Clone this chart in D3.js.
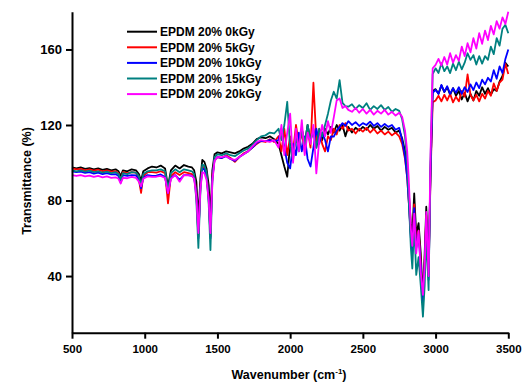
<!DOCTYPE html>
<html>
<head>
<meta charset="utf-8">
<script src="https://cdnjs.cloudflare.com/ajax/libs/d3/7.8.5/d3.min.js"></script>
<style>
  html, body { margin: 0; padding: 0; background: #fff; }
  #chart { width: 525px; height: 386px; }
  text { font-family: Arial, "Liberation Sans", sans-serif; font-weight: bold; fill: #000; }
</style>
</head>
<body>
<div id="chart"></div>
<script>
/* global d3 */

// data
const wavenumbers = [
    500, 530, 560, 590, 620, 650, 680, 710, 740, 770, 800, 820, 835, 850, 880, 910, 940, 960, 975, 990, 1020, 1050, 1080, 1110, 1140, 1160, 1180, 1210, 1240, 1270, 1300, 1325,
    1340, 1355, 1369, 1383, 1396, 1410, 1425, 1440, 1452, 1465, 1480, 1500,
    1530, 1560, 1590, 1620, 1650, 1680, 1710, 1740, 1770, 1800, 1830, 1860, 1890,
    1920, 1940, 1960, 1980, 2000, 2020, 2040, 2060, 2080, 2100, 2120, 2140, 2160, 2180, 2200, 2220, 2240, 2260, 2280, 2300, 2320, 2340, 2360, 2380, 2400,
    2425, 2450, 2475, 2500, 2525, 2550, 2575, 2600, 2625, 2650, 2675, 2700, 2725, 2750, 2770, 2790, 2805,
    2815, 2830, 2840, 2853, 2867, 2883, 2898, 2913, 2925, 2936, 2952, 2965, 2980,
    3000, 3020, 3040, 3060, 3080, 3100, 3120, 3140, 3160, 3180, 3200, 3220, 3240, 3260, 3280, 3300, 3320, 3340, 3360, 3380, 3400, 3420, 3440, 3460, 3480, 3500
];

const epdm0kGy = [
    97.5, 97, 97.5, 96.8, 97.2, 96.5, 97, 96.2, 96.8, 96, 96.5, 95.5, 93, 96, 95.5, 96.5, 96, 94, 90.5, 95.5, 97, 98, 97.5, 98.5, 97, 87.5, 96, 98.5, 97, 98.8, 98, 97.5,
    96, 90, 70, 92, 101.5, 100.5, 97, 88, 70, 96, 104.5, 105.5,
    105, 106, 105.5, 105, 106, 107.5, 108.5, 110, 112.5, 113.5, 113, 114, 112.5,
    110, 104, 98, 92.6, 110, 104, 116, 108, 118, 110, 120, 112, 118, 108, 116, 112, 118, 115, 119, 116, 120, 117, 120, 114, 119,
    116, 118.5, 117, 119, 117.5, 120, 118, 119.5, 117, 119, 117.5, 118.5, 116, 117, 113, 106, 96,
    85, 68, 62, 83.8, 62, 68, 52, 28, 52, 76.7, 45, 95, 138,
    139, 136.5, 141, 137.5, 140, 136, 139.5, 135.5, 138, 133.5, 137, 132.5, 136.5, 133, 138, 135.5, 140, 136.5, 139.5, 136, 139, 138, 143, 146, 153, 151
];

const epdm5kGy = [
    97, 96.5, 96.8, 96, 96.5, 95.8, 96.3, 95.5, 96, 95.3, 95.5, 94.5, 90, 95, 94.5, 95, 94.8, 91, 84, 93, 95, 95, 94.8, 95.5, 94.5, 78.5, 93, 95, 93.5, 95, 94.5, 94,
    92.5, 85, 61, 88, 98, 97.5, 94, 82, 61, 93, 101.5, 103,
    102.5, 104, 102.5, 100.5, 103, 105, 106, 108, 110, 111.5, 111, 112.5, 111,
    114, 106, 118, 104, 114, 106, 120, 110, 116, 106, 118, 108, 142.4, 112, 118, 110, 106, 114, 112, 118, 115, 120, 118, 121, 117,
    118, 115.5, 118, 116.5, 118.5, 116, 118, 115.5, 117, 115, 116.5, 114.5, 116, 114, 110, 102, 92,
    80, 62, 55, 78, 58, 64, 48, 26, 48, 72, 40, 92, 132,
    133, 135.5, 132.5, 136, 133, 136.5, 132, 135, 132.5, 138, 135, 146.8, 136, 133, 136, 132.5, 136.5, 134, 138, 135.5, 142, 138, 142.5, 144, 152.5, 147
];

const epdm10kGy = [
    95.5, 95, 95.3, 94.6, 95, 94.3, 94.8, 94, 94.5, 93.8, 94, 93, 89.5, 93.5, 93, 93.5, 93.3, 91, 86.5, 92, 93.5, 93, 93.2, 93.8, 92.5, 84, 92, 93.5, 91, 93.5, 93.5, 93,
    92, 84, 60, 87, 97, 96.5, 93, 81, 60, 92, 101.5, 103,
    102.5, 103.5, 102, 101, 103, 104.5, 106, 108, 110.5, 111.5, 111.5, 112, 111.5,
    112, 118, 108, 100, 97, 110, 104, 116, 106, 114, 102, 98, 108, 118, 110, 116, 112, 106, 114, 113.8, 117, 119, 121, 119.5, 122,
    120, 121.5, 119.5, 121, 120, 121.8, 119.5, 121, 119, 120.5, 119, 120, 117.5, 118.5, 112, 103, 92,
    80, 60, 52, 76, 55, 62, 46, 24, 46, 70, 38, 94, 137,
    138.6, 136.5, 141.2, 137.5, 140.5, 136.5, 139.5, 137, 140, 136.5, 140, 137.5, 141.5, 138.5, 142.5, 139.5, 144, 141.5, 145, 143, 149, 144.5, 151, 147.5, 155, 160
];

const epdm15kGy = [
    96, 95.5, 96, 95.3, 95.8, 95, 95.5, 94.8, 95.3, 94.5, 95, 94, 91, 94.5, 94, 95, 94.8, 93, 88, 94, 95.5, 96, 96, 96.5, 95.5, 86, 94.5, 96.5, 95, 96.5, 96, 95.5,
    94, 80, 54.9, 85, 99, 98.5, 95, 78, 53.8, 90, 103, 104.5,
    104, 105, 104, 103.5, 105, 106.5, 107.5, 109.5, 112, 114, 114.5, 116, 115.5,
    118, 112, 120, 132.3, 108, 101.5, 114, 106, 118, 110, 120, 112, 116, 108, 118, 114, 120, 126, 133, 137.6, 134, 143.8, 131.7, 130, 129.7,
    131, 128.5, 130.5, 129, 131.5, 128, 130, 128.5, 130.5, 128, 129.5, 127, 128.5, 127.5, 123, 114, 100,
    82, 55, 44, 68, 40.6, 50, 35, 18.5, 35, 62, 32.6, 100, 147,
    150, 147.5, 152.7, 148.5, 151, 147.5, 152.5, 149, 153.5, 149.5, 153, 158, 154.5, 157, 152, 156.5, 152.5, 156.5, 154.5, 161.5, 157.5, 166, 162, 171, 173, 168.6
];

const epdm20kGy = [
    93.5, 93, 93.5, 92.8, 93.2, 92.5, 93, 92.3, 92.8, 92, 92.3, 91.5, 89, 92, 91.8, 92.5, 92, 90, 87.5, 91.5, 92.8, 92.5, 92.6, 93, 92, 84, 91.5, 93.5, 90, 93.5, 93.3, 93,
    91.5, 82, 62.8, 86, 95, 94.5, 91, 80, 62.8, 90, 101, 103,
    103, 103.5, 102, 101.5, 103, 104.5, 106, 108.5, 111, 112, 111.5, 111, 112,
    108, 120, 104, 116, 126, 100, 118, 106, 122.6, 104, 116, 110, 120, 94.4, 112, 120, 114, 122, 115.8, 124, 133, 134, 129, 130, 128,
    127, 129, 126.5, 128.5, 126, 128, 125.5, 127.5, 126, 128, 125.5, 127, 125, 126.5, 124.4, 117, 106,
    92, 65, 56, 73, 52, 64, 42, 30, 45, 74, 40, 104, 150,
    151.8, 155, 151.5, 156, 152, 158, 153, 157, 154, 161.5, 156.5, 163.3, 158.5, 166, 160.5, 168.6, 163, 170, 165, 172.5, 168, 175, 171, 177, 173.5, 180
];

const seriesNames = ['EPDM 20% 0kGy', 'EPDM 20% 5kGy', 'EPDM 20% 10kGy', 'EPDM 20% 15kGy', 'EPDM 20% 20kGy'];
const seriesValues = [epdm0kGy, epdm5kGy, epdm10kGy, epdm15kGy, epdm20kGy];
const seriesColors = ['#000000', '#ff0000', '#0000ff', '#008080', '#ff00ff'];

const xTicks = [500, 1000, 1500, 2000, 2500, 3000, 3500];
const yTicks = [40, 80, 120, 160];

const Chart = {
    init() {
        // dimensions
        const WIDTH = 525;
        const HEIGHT = 386;
        const MARGIN_TOP = 11.7;
        const MARGIN_BOTTOM = 53.3;
        const MARGIN_LEFT = 72;
        const MARGIN_RIGHT = 16.7;

        const $svg = d3.select('#chart').append('svg')
            .attr('width', WIDTH)
            .attr('height', HEIGHT);

        // scales
        const xScale = d3.scaleLinear()
            .domain([500, 3500])
            .range([MARGIN_LEFT, WIDTH - MARGIN_RIGHT]);
        const yScale = d3.scaleLinear()
            .domain([10, 180])
            .range([HEIGHT - MARGIN_BOTTOM, MARGIN_TOP]);

        // lines
        const line = d3.line()
            .x(d => xScale(d[0]))
            .y(d => yScale(d[1]));

        const series = seriesValues.map((vals, i) => ({
            name: seriesNames[i],
            color: seriesColors[i],
            points: wavenumbers.map((w, j) => [w, vals[j]])
        }));

        $svg.append('g').attr('class', 'g-vis')
            .selectAll('path')
            .data(series)
            .join('path')
            .attr('fill', 'none')
            .attr('stroke', d => d.color)
            .attr('stroke-width', 1.8)
            .attr('stroke-linejoin', 'round')
            .attr('d', d => line(d.points));

        // axes
        const xAxis = d3.axisBottom(xScale)
            .tickValues(xTicks)
            .tickFormat(d3.format('d'))
            .tickSize(6)
            .tickSizeOuter(0)
            .tickPadding(6);
        const yAxis = d3.axisLeft(yScale)
            .tickValues(yTicks)
            .tickFormat(d3.format('d'))
            .tickSize(6)
            .tickSizeOuter(0)
            .tickPadding(4);

        const $x = $svg.append('g')
            .attr('transform', `translate(0, ${HEIGHT - MARGIN_BOTTOM})`)
            .call(xAxis);
        const $y = $svg.append('g')
            .attr('transform', `translate(${MARGIN_LEFT}, 0)`)
            .call(yAxis);

        [$x, $y].forEach($a => {
            $a.select('.domain').attr('stroke', '#000').attr('stroke-width', 2);
            $a.selectAll('.tick line').attr('stroke', '#000').attr('stroke-width', 2);
            $a.selectAll('.tick text').attr('fill', '#000');
        });
        $x.selectAll('.tick text').style('font-size', '11.5px');
        $y.selectAll('.tick text').style('font-size', '13px');

        // axis titles
        const xTitle = $svg.append('text')
            .attr('x', 289)
            .attr('y', 379)
            .attr('text-anchor', 'middle')
            .style('font-size', '12.5px');
        xTitle.append('tspan').text('Wavenumber (cm');
        xTitle.append('tspan').attr('dy', -5).style('font-size', '8px').text('-1');
        xTitle.append('tspan').attr('dy', 5).text(')');

        $svg.append('text')
            .attr('transform', 'translate(31, 181) rotate(-90)')
            .attr('text-anchor', 'middle')
            .style('font-size', '12.5px')
            .text('Transmittance (%)');

        // legend
        const $legend = $svg.append('g').attr('class', 'legend')
            .selectAll('g')
            .data(series)
            .join('g')
            .attr('transform', (d, i) => `translate(127, ${31.7 + i * 15.6})`);
        $legend.append('line')
            .attr('x1', 0).attr('x2', 30)
            .attr('stroke', d => d.color)
            .attr('stroke-width', 2);
        $legend.append('text')
            .attr('x', 33)
            .attr('dy', '0.36em')
            .style('font-size', '12px')
            .text(d => d.name);
    }
};

Chart.init();
</script>
</body>
</html>
